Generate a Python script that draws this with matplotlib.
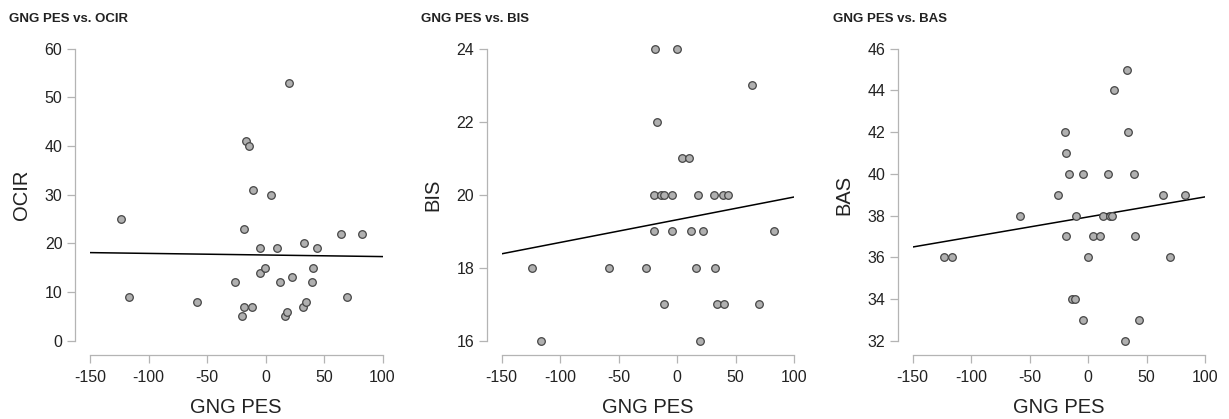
import numpy as np
import matplotlib
matplotlib.use("Agg")
import matplotlib.pyplot as plt

plt.rcParams["font.family"] = ["Liberation Sans", "DejaVu Sans"]
plt.rcParams["axes.unicode_minus"] = False

# GNG PES (x) per participant, shared by all three panels
gng_pes = [-123.6, -116.7, -58.5, -26.3, -20.0, -18.8, -18.6, -16.8, -13.7, -11.7,
           -10.8, -4.9, -4.6, -0.3, 4.3, 10.0, 12.3, 16.8, 18.0, 19.7,
           22.5, 31.7, 32.8, 34.2, 39.7, 40.5, 43.7, 64.5, 69.9, 82.8]
ocir = [25, 9, 8, 12, 5, 23, 7, 41, 40, 7,
        31, 19, 14, 15, 30, 19, 12, 5, 6, 53,
        13, 7, 20, 8, 12, 15, 19, 22, 9, 22]
bis_x = [-123.7, -116.6, -58.7, -26.3, -20.0, -19.6, -18.8, -17.0, -13.9, -11.6,
         -11.6, -4.8, -4.3, -0.5, 3.7, 10.0, 12.0, 16.3, 17.7, 19.4,
         22.2, 31.1, 32.5, 33.7, 38.8, 40.2, 43.6, 64.1, 69.5, 82.4]
bis = [18, 16, 18, 18, 19, 20, 24, 22, 20, 20,
       17, 20, 19, 24, 21, 21, 19, 18, 20, 16,
       19, 20, 18, 17, 20, 17, 20, 23, 17, 19]
bas_x = [-123.3, -116.2, -58.4, -26.0, -19.7, -18.9, -18.6, -16.6, -13.8, -11.2,
         -10.6, -4.7, -4.1, -0.4, 4.2, 10.4, 12.4, 16.6, 18.3, 20.0,
         22.3, 31.7, 33.1, 34.2, 39.3, 40.2, 43.3, 64.3, 69.5, 82.6]
bas = [36, 36, 38, 39, 42, 41, 37, 40, 34, 34,
       38, 40, 33, 36, 37, 37, 38, 40, 38, 38,
       44, 32, 45, 42, 40, 37, 33, 39, 36, 39]

x_ticks = [-150, -100, -50, 0, 50, 100]
panels = [
    ("GNG PES vs. OCIR", "OCIR", gng_pes, ocir, [0, 10, 20, 30, 40, 50, 60]),
    ("GNG PES vs. BIS", "BIS", bis_x, bis, [16, 18, 20, 22, 24]),
    ("GNG PES vs. BAS", "BAS", bas_x, bas, [32, 34, 36, 38, 40, 42, 44, 46]),
]

W, H = 1229, 419
fig = plt.figure(figsize=(W / 100, H / 100), dpi=100, facecolor="white")

lefts = [90, 501.7, 912.7]
title_x = [9, 421, 833]
spine_gray = "#b4b4b4"

for k, (title, ylab, xs, ys, yt) in enumerate(panels):
    ax = fig.add_axes([lefts[k] / W, (H - 340.7) / H, 292.5 / W, 292 / H])
    xs = np.array(xs)
    ys = np.array(ys, dtype=float)

    # regression line
    slope, icpt = np.polyfit(xs, ys, 1)
    lx = np.array([x_ticks[0], x_ticks[-1]])
    ax.plot(lx, icpt + slope * lx, color="black", lw=1.1, zorder=2)

    ax.scatter(xs, ys, s=30, facecolor="#b0b0b0", edgecolor="#454545",
               linewidth=0.9, zorder=3, clip_on=False)

    ax.set_xlim(x_ticks[0], x_ticks[-1])
    ax.set_ylim(yt[0], yt[-1])
    ax.set_xticks(x_ticks)
    ax.set_yticks(yt)

    for s in ["top", "right"]:
        ax.spines[s].set_visible(False)
    ax.spines["left"].set_position(("outward", 10.8))
    ax.spines["bottom"].set_position(("outward", 10.2))
    for s in ["left", "bottom"]:
        ax.spines[s].set_color(spine_gray)
        ax.spines[s].set_linewidth(0.9)
    ax.tick_params(length=6, width=0.9, color=spine_gray, labelsize=11.5,
                   labelcolor="#222222")
    ax.tick_params(axis="x", pad=5)
    ax.tick_params(axis="y", pad=3)

    ax.set_xlabel("GNG PES", fontsize=14.5, color="#222222", labelpad=9)
    ax.set_ylabel(ylab, fontsize=14.5, color="#222222", labelpad=10)

    fig.text(title_x[k] / W, 1 - 19 / H, title, fontsize=9.5, fontweight="bold",
             va="center", ha="left", color="#222222")

fig.savefig("out.png", dpi=100, facecolor="white")
